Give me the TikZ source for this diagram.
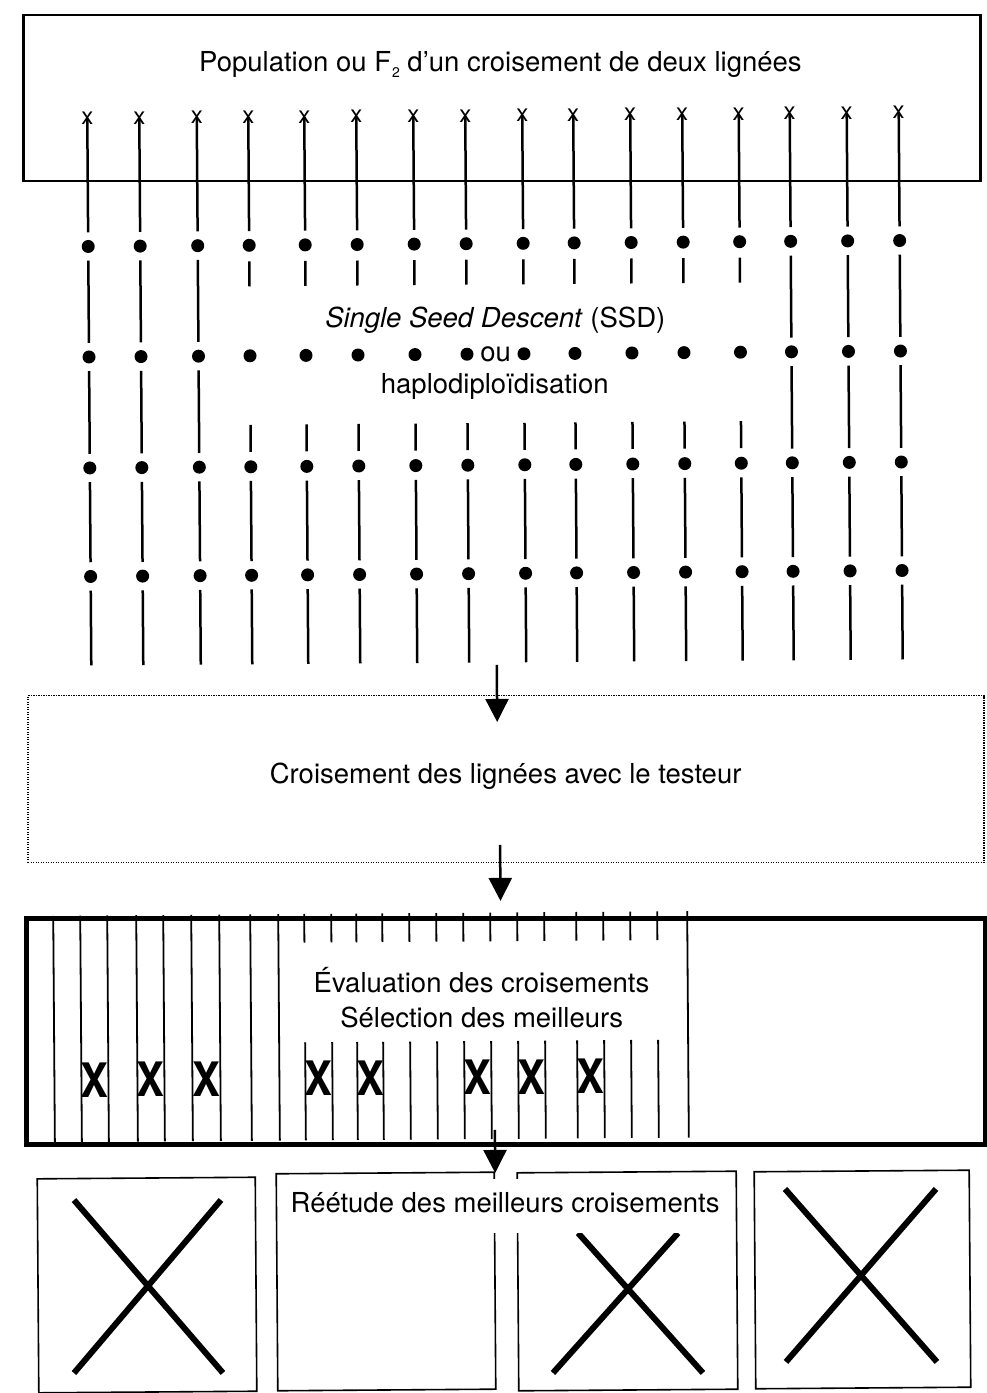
\documentclass[tikz,border=0pt]{standalone}
\usepackage{fontspec}
\setmainfont{TeX Gyre Heros}
\usetikzlibrary{arrows.meta}

\begin{document}
\begin{tikzpicture}[x=1pt,y=-1pt,
  lbl/.style={font=\fontsize{27.5}{33}\selectfont, inner sep=0pt},
  xmark/.style={font=\fontsize{24}{24}\selectfont, inner sep=0pt},
  bigx/.style={font=\fontsize{47.5}{48}\selectfont\bfseries, inner sep=0pt},
  dot/.style={circle, fill=black, minimum size=13pt, inner sep=0pt},
  stem/.style={line width=2.5pt},
  cell/.style={line width=1.8pt},
  flow/.style={line width=2.5pt, -{Triangle[length=23pt,width=23pt]}},
  frame/.style={draw, line width=2.4pt, inner sep=0pt, anchor=north west},
  dotbox/.style={draw, line width=1.2pt, dash pattern=on 1.2pt off 1.3pt, inner sep=0pt, anchor=north west},
  thickbox/.style={draw, line width=5pt, inner sep=0pt, anchor=north west},
  thinbox/.style={draw, line width=1.6pt},
  cross/.style={line width=6pt},
]
\fill[white] (0,0) rectangle (986,1393);
\useasboundingbox (0,0) rectangle (986,1393);

\begin{scope}[rotate around={0.42:(493,696)}]

% ---- starting population ----
\node[frame, minimum width=957pt, minimum height=166pt] (popbox) at (27.4,10.6) {};
\node[lbl, anchor=base] (poptxt) at (505,72)
  {Population ou F\kern1pt\raisebox{-6pt}{\fontsize{14}{14}\selectfont 2} d'un croisement de deux lignées};

% ---- lineages: selfing generations ----
\foreach \c [count=\i] in {91.5,143.5,201,252.5,308.5,360.5,417.5,469.5,526.5,577.5,634.5,686.5,743,794,851,903} {
  \node[xmark] (x\i) at (\c,115.5) {x};
  \node[dot] (a\i) at (\c,243.5) {};
  \node[dot] (b\i) at (\c,354) {};
  \node[dot] (c\i) at (\c,465) {};
  \node[dot] (d\i) at (\c,573.5) {};
  \coordinate (e\i) at (\c,662.5);
  \draw[stem, shorten >=7.5pt] (x\i.center) -- (a\i);
  \ifnum\i<4
    \draw[stem, shorten <=7.5pt, shorten >=7.5pt] (a\i) -- (b\i);
    \draw[stem, shorten <=7.5pt, shorten >=7.5pt] (b\i) -- (c\i);
  \else\ifnum\i>13
    \draw[stem, shorten <=7.5pt, shorten >=7.5pt] (a\i) -- (b\i);
    \draw[stem, shorten <=7.5pt, shorten >=7.5pt] (b\i) -- (c\i);
  \else
    \draw[stem] (a\i.center) ++(0,16) -- ++(0,25);
    \draw[stem] (c\i.center) ++(0,-42) -- ++(0,27);
  \fi\fi
  \draw[stem, shorten <=7.5pt, shorten >=7.5pt] (c\i) -- (d\i);
  \draw[stem, shorten <=7.5pt] (d\i) -- (e\i);
}
\node[lbl, anchor=base] (ssd) at (498,328) {\textit{Single Seed Descent} (SSD)};
\node[lbl, anchor=base] (ou) at (498,362) {ou};
\node[lbl, anchor=base] (hap) at (497,393) {haplodiploïdisation};

% ---- testcross ----
\coordinate (f1s) at (497,665);
\coordinate (f1e) at (497,722);
\draw[flow] (f1s) -- (f1e);
\node[dotbox, minimum width=956pt, minimum height=167pt] (testbox) at (27.4,691.5) {};
\node[lbl, anchor=base] (testtxt) at (505,784) {Croisement des lignées avec le testeur};

\coordinate (f2s) at (499,845);
\coordinate (f2e) at (499,901);
\draw[flow] (f2s) -- (f2e);

% ---- evaluation of the crosses ----
\node[thickbox, minimum width=959pt, minimum height=226.4pt] (evalbox) at (22.6,912.6) {};
\foreach \v in {51.6,78.6,105.6,134.6,161.6,189.6,217.6,248.6,276.6,685.6}
  \draw[cell] (\v,912.6) -- (\v,1139);
\foreach \v in {302.6,329.6,354.6,380.6,407.6,434.6,461.6,488.6,515.6,542.6,574.6,601.6,628.6,655.6} {
  \draw[cell] (\v,912.6) -- (\v,941.3);
  \draw[cell] (\v,1041) -- (\v,1139);
}
\foreach \v [count=\k] in {92.1,148.1,203.6,316.1,367.6,475.1,529.1,588.1}
  \node[bigx] (rej\k) at (\v,1077) {\scalebox{0.88}[1]{X}};
\node[lbl, anchor=base] (evt1) at (479.3,992) {Évaluation des croisements};
\node[lbl, anchor=base] (evt2) at (479.3,1027) {Sélection des meilleurs};

\coordinate (f3s) at (491.7,1130);
\coordinate (f3e) at (491.7,1173);
\draw[flow] (f3s) -- (f3e);

% ---- re-study of the best crosses ----
\draw[thinbox] (33.7,1175.5) rectangle (251.7,1389.5);
\draw[thinbox] (272.7,1172.2) rectangle (490.7,1389.2);
\draw[thinbox] (513.7,1173) rectangle (732.7,1391);
\draw[thinbox] (750.7,1173.7) rectangle (965.7,1390.7);
\draw[cross] (70.3,1197) -- (218,1371);
\draw[cross] (217.3,1198) -- (69,1370);
\draw[cross] (574.1,1233.6) -- (698,1374.5);
\draw[cross] (674.1,1234.4) -- (548,1373.4);
\draw[cross] (781.4,1191.1) -- (932.1,1365.2);
\draw[cross] (932.4,1192.2) -- (781.1,1364.1);
\node[lbl, anchor=base, fill=white, text height=34pt, text depth=20pt, inner xsep=5pt] (reetxt)
  at (501.3,1213) {Réétude des meilleurs croisements};

\end{scope}
\end{tikzpicture}
\end{document}
